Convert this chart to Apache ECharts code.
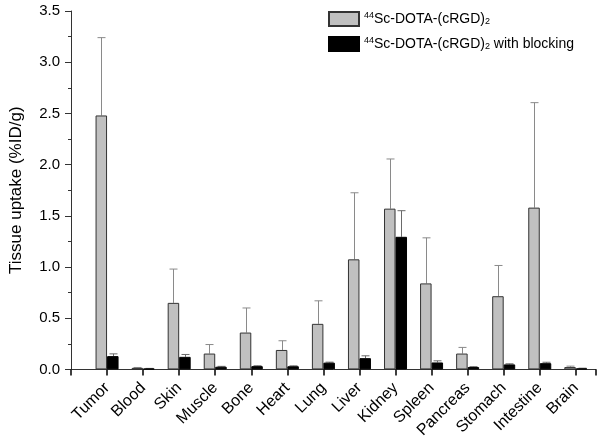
<!DOCTYPE html>
<html>
<head>
<meta charset="utf-8">
<script src="https://cdn.jsdelivr.net/npm/echarts@6/dist/echarts.min.js"></script>
<style>html,body{margin:0;padding:0;background:#fff}#c{width:600px;height:441px}</style>
</head>
<body>
<div id="c"></div>
<script>
var categories = ['Tumor','Blood','Skin','Muscle','Bone','Heart','Lung','Liver','Kidney','Spleen','Pancreas','Stomach','Intestine','Brain'];
var grayMean = [2.48, 0.015, 0.65, 0.155, 0.36, 0.19, 0.445, 1.075, 1.57, 0.84, 0.155, 0.715, 1.58, 0.023];
var grayErr  = [0.76, 0.004, 0.33, 0.088, 0.24, 0.09, 0.225, 0.65, 0.485, 0.445, 0.06, 0.30, 1.025, 0.009];
var blackMean = [0.13, 0.008, 0.123, 0.026, 0.032, 0.031, 0.066, 0.11, 1.295, 0.068, 0.023, 0.049, 0.061, 0.01];
var blackErr  = [0.022, 0.002, 0.023, 0.004, 0.004, 0.004, 0.005, 0.023, 0.255, 0.016, 0.004, 0.006, 0.009, 0.002];
var yTicks = [0, 0.5, 1.0, 1.5, 2.0, 2.5, 3.0, 3.5];
var seriesNames = ['{sup|44}Sc-DOTA-(cRGD){sub|2}', '{sup|44}Sc-DOTA-(cRGD){sub|2} with blocking'];

var BW = 11.5;
var FONT = '"Liberation Sans", Arial, sans-serif';

function barData(vals){ return vals.map(function(v,i){ return [i+1, v]; }); }
function errData(means, errs){ return means.map(function(m,i){ return [i+1, m, m+errs[i]]; }); }

function errRender(offset, color){
  return function(params, api){
    var x = api.value(0);
    var p0 = api.coord([x, api.value(1)]);
    var p1 = api.coord([x, api.value(2)]);
    var cx = Math.round(p0[0] + offset) + 0.5;
    var cap = 4;
    return {
      type: 'group',
      children: [
        {type:'line', shape:{x1:cx, y1:p0[1], x2:cx, y2:p1[1]}, style:{stroke:color, lineWidth:1}},
        {type:'line', shape:{x1:cx-cap, y1:p1[1], x2:cx+cap, y2:p1[1]}, style:{stroke:color, lineWidth:1}}
      ]
    };
  };
}

var chart = echarts.init(document.getElementById('c'), null, {renderer:'canvas'});
chart.setOption({
  animation: false,
  textStyle: {fontFamily: FONT},
  grid: {left: 61, top: 11, right: 4, bottom: 70, containLabel: false},
  legend: {
    orient: 'vertical', left: 328, top: 11, padding: 0, itemWidth: 30, itemHeight: 14, itemGap: 9,
    icon: 'rect',
    data: [seriesNames[0], seriesNames[1]],
    textStyle: {
      fontFamily: FONT, fontSize: 14, color: '#000',
      rich: {
        sup: {fontSize: 9, verticalAlign: 'top', padding:[0,0,6,0], fontFamily: FONT, color:'#000'},
        sub: {fontSize: 9, verticalAlign: 'bottom', padding:[6,0,0,0], fontFamily: FONT, color:'#000'}
      }
    }
  },
  xAxis: {
    type: 'value', min: 0, max: 14.56, interval: 1,
    splitLine: {show: false},
    axisLine: {show: true, onZero: false, lineStyle: {color: '#333', width: 1}},
    axisTick: {show: true, inside: false, length: 6, lineStyle: {color: '#000', width: 1.5}},
    axisLabel: {
      rotate: 45, fontSize: 16, color: '#000', margin: 16, fontFamily: FONT,
      formatter: function(v){ var i = Math.round(v) - 1; return (Math.abs(v - Math.round(v)) < 1e-6 && categories[i]) ? categories[i] : ''; }
    }
  },
  yAxis: {
    type: 'value', min: yTicks[0], max: yTicks[yTicks.length-1], interval: 0.5,
    name: 'Tissue uptake (%ID/g)', nameLocation: 'middle', nameGap: 46,
    nameTextStyle: {fontSize: 17, color: '#000', fontFamily: FONT},
    splitLine: {show: false},
    axisLine: {show: true, lineStyle: {color: '#333', width: 1}},
    axisTick: {show: true, length: 6, lineStyle: {color: '#333'}},
    minorTick: {show: true, splitNumber: 2, length: 3, lineStyle: {color: '#333'}},
    axisLabel: {fontSize: 15, color: '#000', margin: 11, fontFamily: FONT,
      formatter: function(v){ return v.toFixed(1); }}
  },
  series: [
    {
      name: seriesNames[0], type: 'bar', barWidth: BW, barGap: '0%',
      data: barData(grayMean),
      itemStyle: {color: '#c0c0c0', borderColor: '#333', borderWidth: 1}
    },
    {
      name: seriesNames[1], type: 'bar', barWidth: BW, barGap: '0%',
      data: barData(blackMean),
      itemStyle: {color: '#000', borderColor: '#000', borderWidth: 1}
    },
    {
      type: 'custom', renderItem: errRender(-BW/2, '#8a8a8a'),
      data: errData(grayMean, grayErr), z: 1, silent: true
    },
    {
      type: 'custom', renderItem: errRender(BW/2, '#6a6a6a'),
      data: errData(blackMean, blackErr), z: 1, silent: true
    }
  ]
});
</script>
</body>
</html>
